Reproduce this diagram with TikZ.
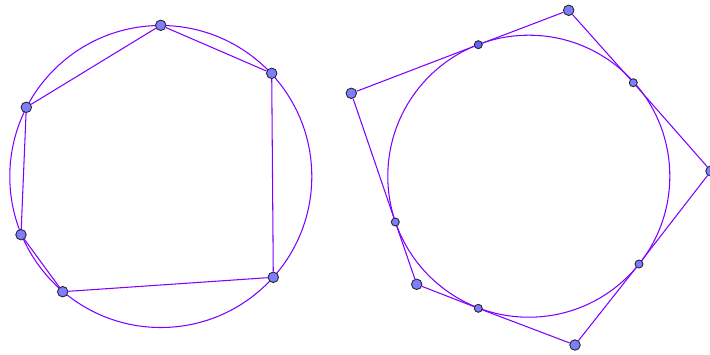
\documentclass[tikz,border=0pt]{standalone}
\usepackage{tikz}
\definecolor{linie}{RGB}{127,0,255}
\definecolor{punktfarbe}{RGB}{125,125,255}
\begin{document}
\begin{tikzpicture}[x=0.02cm, y=-0.02cm,
    linie/.style={draw=linie, line width=0.6pt},
    gross/.style={circle, draw=black!85, fill=punktfarbe, line width=0.5pt, inner sep=0pt, minimum size=0.21cm},
    klein/.style={gross, minimum size=0.16cm}]
    \useasboundingbox (0,0) rectangle (710,355);
    % Umkreis links, Inkreis rechts
    \draw[linie] (160.8,176.5) circle[radius=151];
    \draw[linie] (528.8,176.2) circle[radius=141];
    % Sehnenvieleck
    \foreach \n/\p in {A/{(160.7,25.3)}, B/{(271.7,73.3)}, C/{(273.3,277.3)},
                       D/{(62.7,291.7)}, E/{(21,234.7)}, F/{(26.3,107.3)}}
        \node[gross] (\n) at \p {};
    \draw[linie] (A) -- (B) -- (C) -- (D) -- (E) -- (F) -- (A);
    % Tangentenvieleck
    \foreach \n/\p in {P1/{(568.7,10.3)}, P2/{(711,171)}, P3/{(575,345)},
                       P4/{(416.7,284.3)}, P5/{(351.3,93.3)}}
        \node[gross] (\n) at \p {};
    \foreach \n/\p in {T2/{(633.3,82.7)}, T3/{(639,264)},
                       T4/{(478.3,308.3)}, T5/{(395.3,222)}}
        \node[klein] (\n) at \p {};
    \node[klein, fill=punktfarbe!80!blue] (T1) at (478.3,44.7) {};
    \draw[linie] (P5) -- (T1) -- (P1) -- (T2) -- (P2) -- (T3) -- (P3)
        -- (T4) -- (P4) -- (T5) -- (P5);
\end{tikzpicture}
\end{document}
